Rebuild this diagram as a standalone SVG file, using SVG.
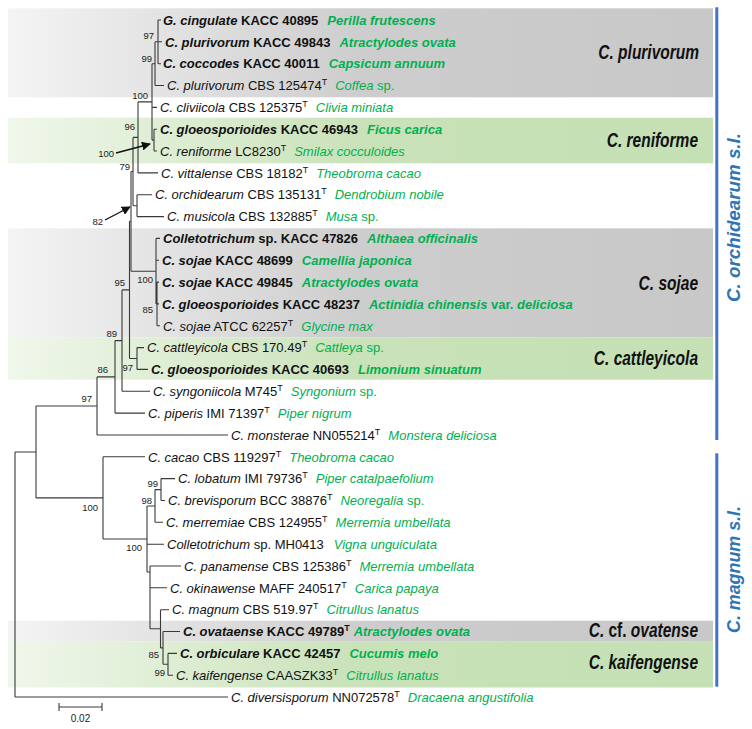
<svg xmlns="http://www.w3.org/2000/svg" width="752" height="729" viewBox="0 0 752 729">
<defs>
<linearGradient id="gg" x1="0" x2="1" y1="0" y2="0"><stop offset="0" stop-color="#f4f4f4"/><stop offset="0.5" stop-color="#cdcdcd"/><stop offset="1" stop-color="#c8c8c8"/></linearGradient>
<linearGradient id="gr" x1="0" x2="1" y1="0" y2="0"><stop offset="0" stop-color="#f0f7eb"/><stop offset="0.5" stop-color="#c9e2b9"/><stop offset="1" stop-color="#c5e0b4"/></linearGradient>
<marker id="ah" viewBox="0 0 10 10" refX="9" refY="5" markerWidth="9" markerHeight="9" markerUnits="userSpaceOnUse" orient="auto"><path d="M0,0 L10,5 L0,10 z" fill="#111"/></marker>
<style>
.t{font-family:"Liberation Sans",Arial,sans-serif;font-size:13px;fill:#111}
.b{font-weight:bold}
.i{font-style:italic}
.h{fill:#00b050;font-style:italic}
.g{fill:#00b050;font-style:normal}
.s{font-size:9px}
.bs{font-family:"Liberation Sans",Arial,sans-serif;font-size:9.5px;fill:#222;text-anchor:end}
.cl{font-family:"Liberation Sans",Arial,sans-serif;font-size:20px;font-weight:bold;font-style:italic;fill:#111;text-anchor:end}
.bl{font-family:"Liberation Sans",Arial,sans-serif;font-size:19px;font-weight:bold;font-style:italic;fill:#2e75b6;text-anchor:middle}
.br{fill:none;stroke:#3a3a3a;stroke-width:1.1}
.arr{fill:none;stroke:#111;stroke-width:1.4}
</style>
</defs>
<rect width="752" height="729" fill="#fff"/>

<g id="clade-boxes">
<g id="box-plurivorum"><rect x="8" y="8.3" width="705" height="89" fill="url(#gg)"/><text class="cl" transform="translate(699,59) scale(0.775,1)">C. plurivorum</text></g>
<g id="box-reniforme"><rect x="8" y="117.7" width="705" height="45.6" fill="url(#gr)"/><text class="cl" transform="translate(698,146.5) scale(0.775,1)">C. reniforme</text></g>
<g id="box-sojae"><rect x="8" y="228.3" width="705" height="109" fill="url(#gg)"/><text class="cl" transform="translate(698,290) scale(0.775,1)">C. sojae</text></g>
<g id="box-cattleyicola"><rect x="8" y="337.3" width="705" height="42.4" fill="url(#gr)"/><text class="cl" transform="translate(698,364.5) scale(0.775,1)">C. cattleyicola</text></g>
<g id="box-ovatense"><rect x="8" y="620.7" width="705" height="21" fill="url(#gg)"/><text class="cl" transform="translate(698,637) scale(0.775,1)">C.<tspan font-style="normal"> cf. </tspan>ovatense</text></g>
<g id="box-kaifengense"><rect x="8" y="641.7" width="705" height="45.8" fill="url(#gr)"/><text class="cl" transform="translate(698,668.5) scale(0.775,1)">C. kaifengense</text></g>
</g>

<g id="species-complexes">
<g id="sl-orchidearum"><rect x="715.3" y="7.3" width="3" height="432.7" fill="#4472c4"/><text class="bl" transform="translate(740,217.5) rotate(-90)" textLength="169" lengthAdjust="spacingAndGlyphs">C. orchidearum s.l.</text></g>
<g id="sl-magnum"><rect x="715.3" y="453.3" width="3" height="233.4" fill="#4472c4"/><text class="bl" transform="translate(740,569.5) rotate(-90)" textLength="127" lengthAdjust="spacingAndGlyphs">C. magnum s.l.</text></g>
</g>

<g id="connectors">
<path class="br" d="M158,20V63.7M158,20H161M158,41.8H162M158,63.7H161M155,41.8H158
M155,41.8V85.5M155,85.5H164M152,63.7H155
M152,63.7V140.1M152,107.4H157M152,140.1H154M138,101.9H152
M154,129.2V151M154,129.2H157M154,151H157
M138,101.9V172.9M138,172.9H158M133,137.4H138
M133,137.4V205.7M131,171.5H133
M137,194.7V216.6M137,194.7H152M137,216.6H164M133,205.7H137
M131,171.5V271.2M129.5,221.3H131
M156,238.4V303.9M156,238.4H160M156,260.2H159M131,271.2H156M156,303.9H157
M157,282.1V325.8M157,282.1H159M157,303.9H159M157,325.8H160
M129.5,221.3V358.5M129.5,358.5H137
M137,347.6V369.4M137,347.6H144M137,369.4H148
M122,289.9H129.5M122,289.9V391.3M122,391.3H150
M115,340.6H122M115,340.6V413.1M115,413.1H145
M97,376.9H115M97,376.9V435M97,435H228
M36,406H97M36,406V497.9M15,452H36
M15,452V697M15,697H228
M36,497.9H103M103,456.8V539M103,456.8H145
M103,539H147M147,506V572M147,544.2H164M147,572H150
M147,506H155M155,489.6V522.3M155,522.3H163
M155,489.6H161M161,478.6V500.5M161,478.6H175M161,500.5H165
M150,566V628.8M150,566H181M150,587.8H167
M150,628.8H160.5M160.5,609.7V647.9M160.5,609.7H169
M160.5,647.9H163M163,631.5V664.3M163,631.5H180
M163,664.3H168M168,653.4V675.2M168,653.4H177M168,675.2H173"/>
<line class="arr" x1="116" y1="153" x2="150" y2="144" marker-end="url(#ah)"/>
<line class="arr" x1="105" y1="220" x2="130" y2="207" marker-end="url(#ah)"/>
<g id="scale-bar"><path class="br" d="M59,707H102M59,703V711M102,703V711"/><text x="80.5" y="722" font-family="Liberation Sans, Arial, sans-serif" font-size="10" fill="#222" text-anchor="middle">0.02</text></g>
</g>

<g id="support-values">
<text class="bs" x="154" y="39">97</text>
<text class="bs" x="152" y="62">99</text>
<text class="bs" x="148" y="99">100</text>
<text class="bs" x="114" y="157">100</text>
<text class="bs" x="135" y="130">96</text>
<text class="bs" x="130" y="170">79</text>
<text class="bs" x="103" y="225">82</text>
<text class="bs" x="153" y="283">100</text>
<text class="bs" x="153" y="313">85</text>
<text class="bs" x="125" y="286">95</text>
<text class="bs" x="117" y="337">89</text>
<text class="bs" x="133" y="371">97</text>
<text class="bs" x="108" y="373">86</text>
<text class="bs" x="92" y="402">97</text>
<text class="bs" x="98" y="511">100</text>
<text class="bs" x="158" y="487">99</text>
<text class="bs" x="152" y="504">98</text>
<text class="bs" x="142" y="551">100</text>
<text class="bs" x="159" y="658">85</text>
<text class="bs" x="165" y="676">99</text>
</g>

<g id="taxa">
<g id="t01"><text class="t b" x="163" y="24.7"><tspan class="i">G. cingulate</tspan> KACC 40895<tspan class="h" dx="9">Perilla frutescens</tspan></text></g>
<g id="t02"><text class="t b" x="165" y="46.5"><tspan class="i">C. plurivorum</tspan> KACC 49843<tspan class="h" dx="9">Atractylodes ovata</tspan></text></g>
<g id="t03"><text class="t b" x="163" y="68.4"><tspan class="i">C. coccodes</tspan> KACC 40011<tspan class="h" dx="9">Capsicum annuum</tspan></text></g>
<g id="t04"><text class="t" x="167" y="90.2"><tspan class="i">C. plurivorum</tspan> CBS 125474<tspan class="s" dy="-5">T</tspan><tspan class="h" dx="8" dy="5">Coffea</tspan><tspan class="g"> sp.</tspan></text></g>
<g id="t05"><text class="t" x="160" y="112.1"><tspan class="i">C. cliviicola</tspan> CBS 125375<tspan class="s" dy="-5">T</tspan><tspan class="h" dx="8" dy="5">Clivia miniata</tspan></text></g>
<g id="t06"><text class="t b" x="160" y="133.9"><tspan class="i">C. gloeosporioides</tspan> KACC 46943<tspan class="h" dx="9">Ficus carica</tspan></text></g>
<g id="t07"><text class="t" x="160" y="155.7"><tspan class="i">C. reniforme</tspan> LC8230<tspan class="s" dy="-5">T</tspan><tspan class="h" dx="8" dy="5">Smilax cocculoides</tspan></text></g>
<g id="t08"><text class="t" x="161" y="177.6"><tspan class="i">C. vittalense</tspan> CBS 18182<tspan class="s" dy="-5">T</tspan><tspan class="h" dx="8" dy="5">Theobroma cacao</tspan></text></g>
<g id="t09"><text class="t" x="155" y="199.4"><tspan class="i">C. orchidearum</tspan> CBS 135131<tspan class="s" dy="-5">T</tspan><tspan class="h" dx="8" dy="5">Dendrobium nobile</tspan></text></g>
<g id="t10"><text class="t" x="167" y="221.3"><tspan class="i">C. musicola</tspan> CBS 132885<tspan class="s" dy="-5">T</tspan><tspan class="h" dx="8" dy="5">Musa</tspan><tspan class="g"> sp.</tspan></text></g>
<g id="t11"><text class="t b" x="163" y="243.1"><tspan class="i">Colletotrichum</tspan> sp. KACC 47826<tspan class="h" dx="9">Althaea officinalis</tspan></text></g>
<g id="t12"><text class="t b" x="162" y="264.9"><tspan class="i">C. sojae</tspan> KACC 48699<tspan class="h" dx="9">Camellia japonica</tspan></text></g>
<g id="t13"><text class="t b" x="162" y="286.8"><tspan class="i">C. sojae</tspan> KACC 49845<tspan class="h" dx="9">Atractylodes ovata</tspan></text></g>
<g id="t14"><text class="t b" x="162" y="308.6"><tspan class="i">C. gloeosporioides</tspan> KACC 48237<tspan class="h" dx="9">Actinidia chinensis</tspan><tspan class="g"> var. </tspan><tspan class="h">deliciosa</tspan></text></g>
<g id="t15"><text class="t" x="163" y="330.5"><tspan class="i">C. sojae</tspan> ATCC 62257<tspan class="s" dy="-5">T</tspan><tspan class="h" dx="8" dy="5">Glycine max</tspan></text></g>
<g id="t16"><text class="t" x="147" y="352.3"><tspan class="i">C. cattleyicola</tspan> CBS 170.49<tspan class="s" dy="-5">T</tspan><tspan class="h" dx="8" dy="5">Cattleya</tspan><tspan class="g"> sp.</tspan></text></g>
<g id="t17"><text class="t b" x="151" y="374.1"><tspan class="i">C. gloeosporioides</tspan> KACC 40693<tspan class="h" dx="9">Limonium sinuatum</tspan></text></g>
<g id="t18"><text class="t" x="153" y="396"><tspan class="i">C. syngoniicola</tspan> M745<tspan class="s" dy="-5">T</tspan><tspan class="h" dx="8" dy="5">Syngonium</tspan><tspan class="g"> sp.</tspan></text></g>
<g id="t19"><text class="t" x="148" y="417.8"><tspan class="i">C. piperis</tspan> IMI 71397<tspan class="s" dy="-5">T</tspan><tspan class="h" dx="8" dy="5">Piper nigrum</tspan></text></g>
<g id="t20"><text class="t" x="231" y="439.7"><tspan class="i">C. monsterae</tspan> NN055214<tspan class="s" dy="-5">T</tspan><tspan class="h" dx="8" dy="5">Monstera deliciosa</tspan></text></g>
<g id="t21"><text class="t" x="148" y="461.5"><tspan class="i">C. cacao</tspan> CBS 119297<tspan class="s" dy="-5">T</tspan><tspan class="h" dx="8" dy="5">Theobroma cacao</tspan></text></g>
<g id="t22"><text class="t" x="178" y="483.3"><tspan class="i">C. lobatum</tspan> IMI 79736<tspan class="s" dy="-5">T</tspan><tspan class="h" dx="8" dy="5">Piper catalpaefolium</tspan></text></g>
<g id="t23"><text class="t" x="168" y="505.2"><tspan class="i">C. brevisporum</tspan> BCC 38876<tspan class="s" dy="-5">T</tspan><tspan class="h" dx="8" dy="5">Neoregalia</tspan><tspan class="g"> sp.</tspan></text></g>
<g id="t24"><text class="t" x="166" y="527"><tspan class="i">C. merremiae</tspan> CBS 124955<tspan class="s" dy="-5">T</tspan><tspan class="h" dx="8" dy="5">Merremia umbellata</tspan></text></g>
<g id="t25"><text class="t" x="167" y="548.9"><tspan class="i">Colletotrichum</tspan> sp. MH0413<tspan class="h" dx="10">Vigna unguiculata</tspan></text></g>
<g id="t26"><text class="t" x="184" y="570.7"><tspan class="i">C. panamense</tspan> CBS 125386<tspan class="s" dy="-5">T</tspan><tspan class="h" dx="8" dy="5">Merremia umbellata</tspan></text></g>
<g id="t27"><text class="t" x="170" y="592.5"><tspan class="i">C. okinawense</tspan> MAFF 240517<tspan class="s" dy="-5">T</tspan><tspan class="h" dx="8" dy="5">Carica papaya</tspan></text></g>
<g id="t28"><text class="t" x="172" y="614.4"><tspan class="i">C. magnum</tspan> CBS 519.97<tspan class="s" dy="-5">T</tspan><tspan class="h" dx="8" dy="5">Citrullus lanatus</tspan></text></g>
<g id="t29"><text class="t b" x="183" y="636.2"><tspan class="i">C. ovataense</tspan> KACC 49789<tspan class="s" dy="-5">T</tspan><tspan class="h" dx="4" dy="5">Atractylodes ovata</tspan></text></g>
<g id="t30"><text class="t b" x="180" y="658.1"><tspan class="i">C. orbiculare</tspan> KACC 42457<tspan class="h" dx="9">Cucumis melo</tspan></text></g>
<g id="t31"><text class="t" x="176" y="679.9"><tspan class="i">C. kaifengense</tspan> CAASZK33<tspan class="s" dy="-5">T</tspan><tspan class="h" dx="8" dy="5">Citrullus lanatus</tspan></text></g>
<g id="t32"><text class="t" x="231" y="701.7"><tspan class="i">C. diversisporum</tspan> NN072578<tspan class="s" dy="-5">T</tspan><tspan class="h" dx="8" dy="5">Dracaena angustifolia</tspan></text></g>
</g>
</svg>
